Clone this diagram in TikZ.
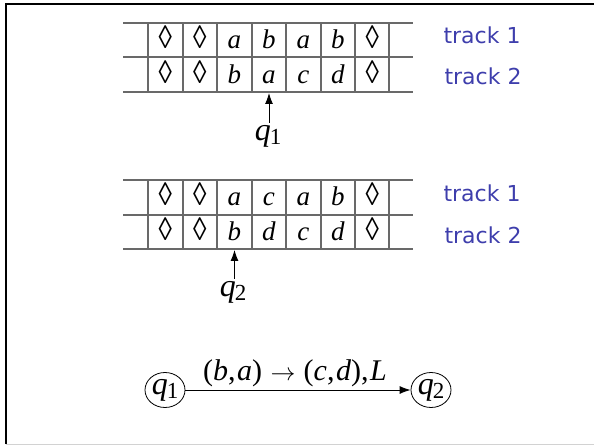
\documentclass[tikz,border=0pt]{standalone}
\usepackage{fontspec}
\setmainfont{Liberation Serif}
\newfontfamily\trackfont{DejaVu Sans}
\usetikzlibrary{shapes.geometric,arrows.meta}

\definecolor{trackblue}{RGB}{62,62,172}
\definecolor{tapegray}{RGB}{105,105,105}
\newcommand{\blank}{\textup{\scalebox{1}[1.2]{◊}}}
\newcommand{\qstate}[1]{\textit{q}\kern-1pt\raisebox{-0.3ex}{\fontsize{23}{23}\selectfont #1}}

\tikzset{
    cell/.style={anchor=base, inner sep=0pt, font=\fontsize{27}{29}\selectfont\itshape},
    tapeline/.style={tapegray, line width=1.2pt},
    tracklabel/.style={anchor=west, text=trackblue, font=\fontsize{22}{24}\trackfont},
    headlabel/.style={inner sep=2pt, font=\fontsize{32}{34}\selectfont},
    state/.style={draw, ellipse, line width=0.8pt, inner sep=0pt, minimum width=40pt, minimum height=35pt, font=\fontsize{32}{34}\selectfont},
    head/.style={-{Latex[length=11pt,width=8pt]}, line width=0.9pt}
}

\begin{document}
\begin{tikzpicture}[x=1pt, y=-1pt]
    \useasboundingbox (0,0) rectangle (594,446);
    % slide frame
    \draw[line width=2pt] (6,444) -- (6,4) -- (594,4);
    \draw[gray!35, line width=1pt] (6,444) -- (594,444);

    % first tape, head on column 4
    \foreach \y in {23,57,92}
        \draw[tapeline] (123,\y) -- (413,\y);
    \foreach \x in {148,183,217,252,286,321,355,389}
        \draw[tapeline] (\x,23) -- (\x,92);
    \foreach \index/\sym in {1/\blank,2/\blank,3/a,4/b,5/a,6/b,7/\blank}
        \node[cell] (tapeA-top-\index) at ({148+34.5*(\index-0.5)},49) {\sym};
    \foreach \index/\sym in {1/\blank,2/\blank,3/b,4/a,5/c,6/d,7/\blank}
        \node[cell] (tapeA-bot-\index) at ({148+34.5*(\index-0.5)},84) {\sym};
    \coordinate (headA) at (269,93);
    \node[headlabel] (qheadA) at (268,136) {\qstate{1}};
    \draw[head] (qheadA.north -| headA) -- (headA);
    \node[tracklabel] (trackA-1) at (440,35) {track 1};
    \node[tracklabel] (trackA-2) at (441,76) {track 2};

    % second tape, head on column 3
    \foreach \y in {180,215,249}
        \draw[tapeline] (123,\y) -- (413,\y);
    \foreach \x in {148,183,217,252,286,321,355,389}
        \draw[tapeline] (\x,180) -- (\x,249);
    \foreach \index/\sym in {1/\blank,2/\blank,3/a,4/c,5/a,6/b,7/\blank}
        \node[cell] (tapeB-top-\index) at ({148+34.5*(\index-0.5)},206) {\sym};
    \foreach \index/\sym in {1/\blank,2/\blank,3/b,4/d,5/c,6/d,7/\blank}
        \node[cell] (tapeB-bot-\index) at ({148+34.5*(\index-0.5)},241) {\sym};
    \coordinate (headB) at (234.5,250);
    \node[headlabel] (qheadB) at (233,292) {\qstate{2}};
    \draw[head] (qheadB.north -| headB) -- (headB);
    \node[tracklabel] (trackB-1) at (440,193) {track 1};
    \node[tracklabel] (trackB-2) at (441,235) {track 2};

    % transition
    \node[state] (stateA) at (165,390) {\qstate{1}};
    \node[state] (stateB) at (431,390) {\qstate{2}};
    \draw[head] (stateA) -- node[above=0pt, inner sep=3pt, xshift=-3pt, font=\fontsize{30}{32}\selectfont]
        {(\textit{b},\kern1.5pt\textit{a})\;$\rightarrow$\;(\textit{c},\kern1.5pt\textit{d}),\kern1.5pt\textit{L}} (stateB);
\end{tikzpicture}
\end{document}
